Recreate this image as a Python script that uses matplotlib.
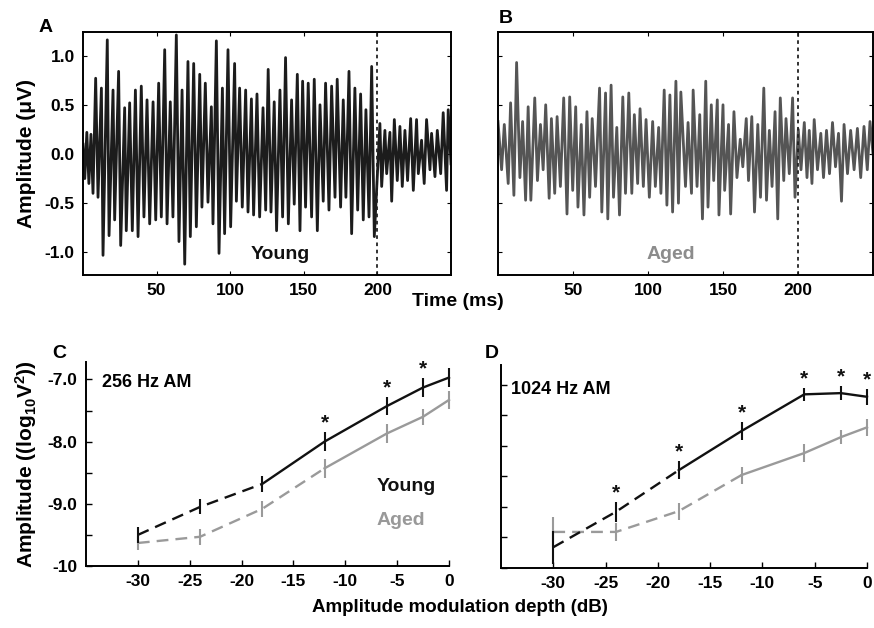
import matplotlib
matplotlib.use("Agg")
import matplotlib.pyplot as plt
import numpy as np

plt.rcParams['font.family'] = ['Liberation Sans', 'DejaVu Sans']
plt.rcParams['font.weight'] = 'bold'
plt.rcParams['axes.labelweight'] = 'bold'
plt.rcParams['mathtext.fontset'] = 'custom'
plt.rcParams['mathtext.rm'] = 'Liberation Sans:bold'
plt.rcParams['mathtext.it'] = 'Liberation Sans:bold'
plt.rcParams['mathtext.bf'] = 'Liberation Sans:bold'
plt.rcParams['mathtext.default'] = 'rm'
plt.rcParams['axes.unicode_minus'] = False

# Panel A: young waveform, local peaks / troughs (time in ms, amplitude in uV)
young_t = [0, 1.2, 2.6, 4.0, 5.4, 6.8, 8.6, 10.2, 12.5, 13.6,
           16.5, 17.7, 20.4, 21.5, 24.2, 25.6, 28.3, 29.4, 31.7, 33.5,
           35.6, 37.4, 39.6, 41.4, 43.5, 45.3, 47.6, 49.4, 51.4, 53.2,
           55.5, 57.1, 59.3, 61.1, 63.4, 65.2, 67.3, 69.1, 71.3, 72.9,
           75.2, 77.0, 79.3, 80.8, 83.1, 84.9, 87.2, 88.3, 90.6, 92.4,
           94.7, 96.2, 98.5, 100.3, 103.0, 104.2, 106.4, 108.2, 110.5, 112.1,
           114.4, 115.9, 118.2, 120.0, 122.3, 124.1, 125.8, 127.7, 129.9, 131.5,
           133.8, 135.6, 137.6, 139.5, 141.7, 143.5, 145.6, 147.4, 149.2, 151.2,
           153.0, 155.3, 157.1, 159.2, 161.0, 163.2, 164.8, 167.1, 168.9, 171.2,
           172.7, 175.0, 176.8, 178.6, 180.7, 182.5, 184.7, 186.6, 188.6, 190.4,
           192.2, 194.3, 196.1, 197.9, 201.7, 202.9, 205.1, 206.3, 208.5, 209.7,
           211.5, 213.5, 215.3, 216.9, 218.7, 220.5, 222.6, 224.4, 226.6, 227.8,
           230.0, 231.8, 233.4, 235.7, 236.8, 239.1, 240.7, 243.0, 244.7, 247.0,
           248.1, 250.0]
young_v = [0.10, -0.25, 0.22, -0.30, 0.20, -0.40, 0.77, -0.44, 0.67, -1.03,
           1.16, -0.83, 0.65, -0.67, 0.84, -0.93, 0.47, -0.78, 0.52, -0.78,
           0.65, -0.84, 0.69, -0.64, 0.55, -0.71, 0.53, -0.67, 0.72, -0.64,
           1.06, -0.71, 0.53, -0.64, 1.21, -0.89, 0.65, -1.12, 0.94, -0.84,
           0.92, -0.74, 0.81, -0.54, 0.72, -0.49, 0.48, -0.71, 1.15, -1.01,
           0.67, -0.81, 1.06, -0.74, 0.92, -0.48, 0.67, -0.54, 0.65, -0.59,
           0.56, -0.62, 0.61, -0.64, 0.47, -0.57, 0.86, -0.59, 0.53, -0.78,
           0.65, -0.64, 0.98, -0.71, 0.55, -0.51, 0.81, -0.78, 0.74, -0.54,
           0.72, -0.64, 0.76, -0.78, 0.50, -0.48, 0.72, -0.57, 0.69, -0.44,
           0.76, -0.54, 0.55, -0.44, 0.84, -0.81, 0.67, -0.57, 0.61, -0.67,
           0.45, -0.64, 0.89, -0.84, 0.31, -0.33, 0.24, -0.20, 0.22, -0.48,
           0.35, -0.27, 0.28, -0.33, 0.24, -0.27, 0.36, -0.37, 0.35, -0.20,
           0.14, -0.30, 0.35, -0.16, 0.21, -0.23, 0.24, -0.20, 0.42, -0.37,
           0.45, -0.10]

# Panel B: aged waveform
aged_t = [0.0, 2.4, 4.2, 6.8, 8.4, 10.6, 12.4, 14.6, 16.4, 18.4,
          20.1, 21.9, 24.5, 26.3, 28.3, 30.1, 31.8, 34.1, 35.6, 37.8,
          39.4, 41.6, 43.8, 46.0, 47.8, 49.8, 51.8, 53.3, 55.5, 57.3,
          59.3, 61.1, 62.8, 65.0, 67.7, 69.2, 71.7, 73.2, 75.4, 77.0,
          79.2, 81.0, 83.2, 85.0, 87.2, 89.2, 90.9, 93.1, 94.7, 96.9,
          98.7, 100.9, 103.1, 104.9, 107.1, 108.6, 110.8, 112.6, 114.6, 116.4,
          118.6, 120.3, 121.9, 125.0, 126.7, 129.0, 130.1, 132.7, 134.5, 136.3,
          138.5, 140.0, 142.2, 143.8, 146.2, 147.3, 150.0, 151.1, 153.7, 155.1,
          157.3, 159.3, 161.5, 163.2, 165.5, 167.0, 169.2, 171.0, 173.2, 175.0,
          177.2, 179.0, 180.9, 182.7, 184.7, 186.5, 188.2, 190.5, 192.0, 194.2,
          196.4, 198.0, 200.2, 202.0, 204.2, 206.0, 207.5, 209.3, 210.8, 213.0,
          215.2, 217.0, 219.0, 221.0, 223.0, 225.0, 227.0, 229.0, 230.7, 233.0,
          235.1, 237.4, 239.6, 241.8, 244.0, 246.2, 248.0, 250.0]
aged_v = [0.33, -0.16, 0.30, -0.30, 0.52, -0.42, 0.93, -0.24, 0.33, -0.47,
          0.48, -0.47, 0.57, -0.27, 0.30, -0.16, 0.50, -0.45, 0.36, -0.40,
          0.38, -0.33, 0.57, -0.61, 0.58, -0.37, 0.48, -0.54, 0.30, -0.62,
          0.43, -0.44, 0.36, -0.33, 0.67, -0.59, 0.62, -0.66, 0.70, -0.44,
          0.27, -0.62, 0.58, -0.40, 0.62, -0.40, 0.40, -0.30, 0.46, -0.33,
          0.35, -0.44, 0.33, -0.33, 0.27, -0.40, 0.65, -0.52, 0.60, -0.59,
          0.74, -0.50, 0.63, -0.33, 0.32, -0.40, 0.65, -0.33, 0.40, -0.66,
          0.74, -0.54, 0.50, -0.27, 0.55, -0.62, 0.50, -0.37, 0.30, -0.61,
          0.43, -0.24, 0.15, -0.13, 0.36, -0.27, 0.38, -0.59, 0.30, -0.44,
          0.67, -0.47, 0.24, -0.33, 0.43, -0.66, 0.57, -0.27, 0.36, -0.20,
          0.57, -0.44, 0.25, -0.16, 0.32, -0.24, 0.24, -0.30, 0.35, -0.16,
          0.21, -0.24, 0.24, -0.20, 0.32, -0.13, 0.21, -0.48, 0.30, -0.20,
          0.24, -0.16, 0.26, -0.24, 0.28, -0.16, 0.33, 0.00]

# Panels C / D: response amplitude vs modulation depth
depth = [-30, -24, -18, -12, -6, -2.5, 0]
c_young = [-9.50, -9.05, -8.68, -8.00, -7.43, -7.13, -6.97]
c_aged = [-9.63, -9.53, -9.08, -8.43, -7.87, -7.60, -7.33]
c_young_err = [0.13, 0.12, 0.13, 0.15, 0.15, 0.15, 0.15]
c_aged_err = [0.12, 0.13, 0.13, 0.15, 0.15, 0.13, 0.15]
d_young = [-9.66, -9.08, -8.40, -7.76, -7.16, -7.14, -7.20]
d_aged = [-9.41, -9.41, -9.07, -8.48, -8.12, -7.86, -7.70]
d_young_err = [0.27, 0.16, 0.15, 0.14, 0.11, 0.11, 0.13]
d_aged_err = [0.25, 0.15, 0.14, 0.14, 0.14, 0.12, 0.14]
c_sig = [-12, -6, -2.5]
d_sig = [-24, -18, -12, -6, -2.5, 0]

wave_ticks = [50, 100, 150, 200]
amp_ticks = [-1.0, -0.5, 0.0, 0.5, 1.0]
depth_ticks = [-30, -25, -20, -15, -10, -5, 0]
log_ticks = [-10, -9.5, -9, -8.5, -8, -7.5, -7]
log_labels = ['-10', '', '-9.0', '', '-8.0', '', '-7.0']

W, H = 874, 628
fig = plt.figure(figsize=(W / 100, H / 100), dpi=100)


def px_axes(left, top, right, bottom):
    return fig.add_axes([left / W, 1 - bottom / H, (right - left) / W, (bottom - top) / H])


def wave_panel(ax, t, v, color, show_labels):
    ax.plot(t, v, color=color, lw=2.0)
    ax.axvline(200, color='#222222', ls=(0, (2, 2)), lw=1.3)
    ax.set_xlim(0, 250)
    ax.set_ylim(-1.23, 1.24)
    ax.set_xticks(wave_ticks)
    ax.set_yticks(amp_ticks)
    ax.tick_params(direction='in', top=True, right=True, length=3, width=0.8,
                   labelsize=12.5, pad=6)
    if show_labels:
        ax.set_yticklabels(['%.1f' % y for y in amp_ticks])
    else:
        ax.set_yticklabels([])
    for s in ax.spines.values():
        s.set_linewidth(1.4)


def depth_panel(ax, young, young_err, aged, aged_err, n_dash_young, n_dash_aged, sig, top):
    for vals, errs, col, nd in [(aged, aged_err, '#9a9a9a', n_dash_aged),
                                (young, young_err, '#111111', n_dash_young)]:
        ax.plot(depth[:nd + 1], vals[:nd + 1], color=col, lw=1.7, ls=(0, (5, 3)),
                clip_on=False)
        ax.plot(depth[nd:], vals[nd:], color=col, lw=1.7, clip_on=False)
        ax.errorbar(depth, vals, yerr=errs, fmt='none', ecolor=col, elinewidth=1.5,
                    capsize=0, clip_on=False)
    for x in sig:
        i = depth.index(x)
        ax.text(x, young[i] + young_err[i] + 0.15, '*', ha='center', va='center',
                fontsize=15, color='#111111')
    ax.set_xlim(-35, 0)
    ax.set_ylim(-10, top)
    ax.set_xticks(depth_ticks)
    ax.set_yticks(log_ticks)
    ax.spines['top'].set_visible(False)
    ax.spines['right'].set_visible(False)
    for s in ['left', 'bottom']:
        ax.spines[s].set_linewidth(1.4)
    ax.tick_params(direction='in', length=4, width=1.0, labelsize=12.5, pad=6)


axA = px_axes(83, 32, 451, 275)
wave_panel(axA, young_t, young_v, '#1c1c1c', True)
axA.set_ylabel('Amplitude (\u03bcV)', fontsize=15, labelpad=6)
axA.text(134, -1.02, 'Young', ha='center', va='center', fontsize=14, color='#111111')

axB = px_axes(498, 32, 873, 275)
wave_panel(axB, aged_t, aged_v, '#555555', False)
axB.text(115, -1.02, 'Aged', ha='center', va='center', fontsize=14, color='#8c8c8c')

axC = px_axes(86, 362, 449, 566)
depth_panel(axC, c_young, c_young_err, c_aged, c_aged_err, 2, 3, c_sig, -6.72)
axC.set_yticklabels(log_labels)
axC.set_ylabel(r'Amplitude ((log$_{10}$V$^2$))', fontsize=15, labelpad=6)
axC.text(-33.5, -7.05, '256 Hz AM', ha='left', va='center', fontsize=13)
axC.text(-7.0, -8.72, 'Young', ha='left', va='center', fontsize=14, color='#111111')
axC.text(-7.0, -9.27, 'Aged', ha='left', va='center', fontsize=14, color='#999999')

axD = px_axes(501, 365, 867, 568)
depth_panel(axD, d_young, d_young_err, d_aged, d_aged_err, 2, 3, d_sig, -6.68)
axD.set_yticklabels([])
axD.text(-34, -7.08, '1024 Hz AM', ha='left', va='center', fontsize=13)

fig.text(39 / W, 1 - 32 / H, 'A', fontsize=14, ha='left', va='baseline')
fig.text(499 / W, 1 - 23 / H, 'B', fontsize=14, ha='left', va='baseline')
fig.text(52 / W, 1 - 358 / H, 'C', fontsize=14, ha='left', va='baseline')
fig.text(485 / W, 1 - 358 / H, 'D', fontsize=14, ha='left', va='baseline')
fig.text(458 / W, 1 - 302 / H, 'Time (ms)', fontsize=14, ha='center', va='center')
fig.text(460 / W, 1 - 608 / H, 'Amplitude modulation depth (dB)', fontsize=13.5,
         ha='center', va='center')

fig.savefig('out.png', dpi=100)
